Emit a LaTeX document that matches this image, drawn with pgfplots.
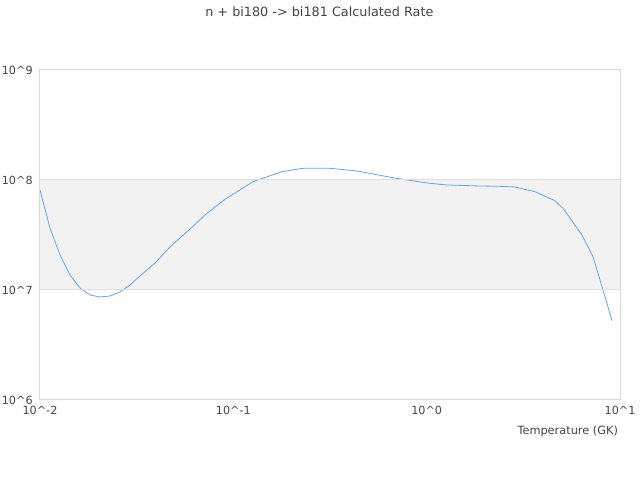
\documentclass[border=0pt]{standalone}
\usepackage{pgfplots}
\pgfplotsset{compat=1.18}
\usepackage{fontspec}
\setmainfont{DejaVu Sans}
\definecolor{txtc}{HTML}{444444}
\definecolor{bordc}{HTML}{D9D9D9}
\definecolor{gridc}{HTML}{DEDEDE}
\definecolor{bandc}{HTML}{F2F2F2}
\definecolor{linec}{HTML}{5DA8F2}
\begin{document}
\begin{tikzpicture}
\path[use as bounding box] (0,0) rectangle (480bp,360bp);
\node[text=txtc,font=\fontsize{9.6bp}{11bp}\selectfont] at (239.5bp,351bp) {n + bi180 -> bi181 Calculated Rate};
\node[text=txtc,font=\fontsize{8.5bp}{10bp}\selectfont,anchor=east] at (467bp,36.75bp) {Temperature (GK)};
\begin{axis}[
  axis on top,
  at={(30bp,60bp)}, anchor=south west,
  scale only axis, width=435bp, height=247.5bp,
  xmode=log, ymode=log,
  xmin=0.01, xmax=10, ymin=1e6, ymax=1e9,
  xtick={0.01,0.1,1,10},
  xticklabels={10\textasciicircum-2,10\textasciicircum-1,10\textasciicircum0,10\textasciicircum1},
  ytick={1e6,1e7,1e8,1e9},
  yticklabels={10\textasciicircum6,10\textasciicircum7,10\textasciicircum8,10\textasciicircum9},
  xminorticks=false, yminorticks=false,
  major tick length=0pt,
  axis line style={draw=bordc, line width=0.75bp},
  ymajorgrids, major grid style={draw=gridc, line width=0.75bp},
  ticklabel style={text=txtc, font=\fontsize{8.4bp}{10bp}\selectfont},
  xticklabel style={yshift=-1bp},
  yticklabel style={xshift=-2bp},
]
\addplot[fill=bandc, draw=none, forget plot] coordinates {(0.01,1e7) (10,1e7) (10,1e8) (0.01,1e8) (0.01,1e7)};
\addplot[color=linec, line width=0.6bp, mark=none] coordinates {
(0.01,8.11e7)
(0.01126,3.66e7)
(0.01269,2.08e7)
(0.01429,1.369e7)
(0.01610,1.043e7)
(0.01814,9.01e6)
(0.02043,8.64e6)
(0.02302,8.82e6)
(0.02593,9.59e6)
(0.02921,1.11e7)
(0.03291,1.341e7)
(0.03934,1.760e7)
(0.04702,2.46e7)
(0.05970,3.585e7)
(0.07136,4.81e7)
(0.09055,6.68e7)
(0.1264,9.65e7)
(0.1785,1.190e8)
(0.2293,1.278e8)
(0.3162,1.278e8)
(0.4362,1.207e8)
(0.6698,1.049e8)
(1.004,9.39e7)
(1.274,9.01e7)
(1.888,8.82e7)
(2.394,8.76e7)
(2.863,8.64e7)
(3.634,7.83e7)
(4.612,6.48e7)
(5.073,5.53e7)
(6.36,3.16e7)
(7.25,2.008e7)
(8.17,1.0e7)
(9.09,5.26e6)
};
\end{axis}
\end{tikzpicture}
\end{document}
